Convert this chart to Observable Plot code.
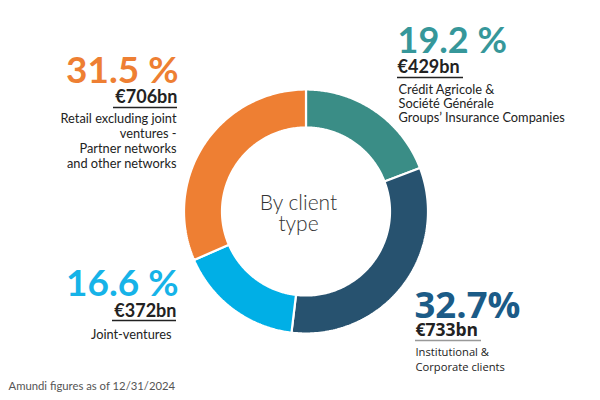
<!DOCTYPE html>
<html><head><meta charset="utf-8">
<script src="https://cdn.jsdelivr.net/npm/d3@7"></script>
<script src="https://cdn.jsdelivr.net/npm/@observablehq/plot@0.6"></script>
<style>body{margin:0;background:#fff}#chart svg{display:block}</style>
</head><body><div id="chart"></div>
<script>
// ---- data ----
const categories = ["Insurance", "Institutional", "JointVentures", "Retail"];
const shares = [19.2, 32.7, 16.6, 31.5];
const shareLabels = ["19.2 %", "32.7%", "16.6 %", "31.5 %"];
const amounts = ["€429bn", "€733bn", "€372bn", "€706bn"];
const descriptions = [
  ["Crédit Agricole &", "Société Générale", "Groups’ Insurance Companies"],
  ["Institutional &", "Corporate clients"],
  ["Joint-ventures"],
  ["Retail excluding joint", "ventures -", "Partner networks", "and other networks"]
];
const centerLabel = ["By client", "type"];
const footnote = "Amundi figures as of 12/31/2024";

// ---- styles / layout ----
const sliceColors = ["#3A8D86", "#27526F", "#00AFE6", "#EE7F33"];
const labelColors = ["#36979A", "#1B5B87", "#16B3E8", "#EE7F33"];
const W = 600, H = 400, cx = 305.5, cy = 211, R = 122, r = 84;
const X = px => (px - cx) / R, Y = py => (cy - py) / R;
const layout = [
  {anchor: "start", x: 397, pctY: 52, amtX: 397, amtY: 72, rule: [397, 463, 77], ruleColor: "#222", descX: 398, descY: 93, lh: 14.2, font: "Lato", pctSize: 36, amtSize: 18, descSize: 12.8},
  {anchor: "start", x: 414, pctY: 317, amtX: 415, amtY: 335, rule: [415, 481, 340], ruleColor: "#999", descX: 415, descY: 355, lh: 15, font: "Open Sans", pctSize: 36.5, amtSize: 17.5, descSize: 11.2},
  {anchor: "end", x: 178, pctY: 295, amtX: 176, amtY: 316, rule: [112, 176, 320], ruleColor: "#222", descX: 171, descY: 338, lh: 15, font: "Lato", pctSize: 37, amtSize: 18, descSize: 12.8},
  {anchor: "end", x: 178, pctY: 82, amtX: 177, amtY: 102, rule: [113, 177, 107], ruleColor: "#222", descX: 176, descY: 122, lh: 15, font: "Lato", pctSize: 37, amtSize: 18, descSize: 12.8}
];

// ---- slices ----
const arcs = d3.pie().sort(null).value(d => d)(shares);
const slicePts = arcs.flatMap((a, i) => {
  const n = 120;
  const outer = d3.range(n + 1).map(k => a.startAngle + (a.endAngle - a.startAngle) * k / n);
  const pts = [
    ...outer.map(t => ({cat: categories[i], x: Math.sin(t), y: Math.cos(t)})),
    ...outer.slice().reverse().map(t => ({cat: categories[i], x: Math.sin(t) * r / R, y: Math.cos(t) * r / R}))
  ];
  pts.push(pts[0]);
  return pts;
});

const textMarks = categories.flatMap((c, i) => {
  const L = layout[i];
  return [
    Plot.text([shareLabels[i]], {x: X(L.x), y: Y(L.pctY), text: d => d, textAnchor: L.anchor, lineAnchor: "bottom", fill: labelColors[i], fontSize: L.pctSize, fontWeight: "bold", fontFamily: L.font}),
    Plot.text([amounts[i]], {x: X(L.amtX), y: Y(L.amtY), text: d => d, textAnchor: L.anchor, lineAnchor: "bottom", fill: "#222", fontSize: L.amtSize, fontWeight: "bold", fontFamily: L.font}),
    Plot.ruleY([Y(L.rule[2])], {x1: X(L.rule[0]), x2: X(L.rule[1]), stroke: L.ruleColor, strokeWidth: 1.6}),
    Plot.text(descriptions[i], {x: X(L.descX), y: (d, k) => Y(L.descY + k * L.lh), text: d => d, textAnchor: L.anchor, lineAnchor: "bottom", fill: "#222", fontSize: L.descSize, fontFamily: L.font})
  ];
});

const chart = Plot.plot({
  width: W, height: H, margin: 0,
  x: {domain: [X(0), X(W)], axis: null},
  y: {domain: [Y(H), Y(0)], axis: null},
  color: {domain: categories, range: sliceColors},
  style: {background: "#fff"},
  marks: [
    Plot.line(slicePts, {x: "x", y: "y", z: "cat", fill: "cat", stroke: "#fff", strokeWidth: 2.2, strokeLinejoin: "miter"}),
    Plot.text(centerLabel, {x: X(298), y: (d, k) => Y(209 + k * 21), text: d => d, lineAnchor: "bottom", fontSize: 21, fill: "#333", fontFamily: "Lato", fontWeight: 300}),
    ...textMarks,
    Plot.text([footnote], {x: X(8), y: Y(389), text: d => d, textAnchor: "start", lineAnchor: "bottom", fontSize: 11.3, fill: "#555", fontFamily: "Lato"})
  ]
});
document.getElementById("chart").appendChild(chart);
</script>
</body></html>
